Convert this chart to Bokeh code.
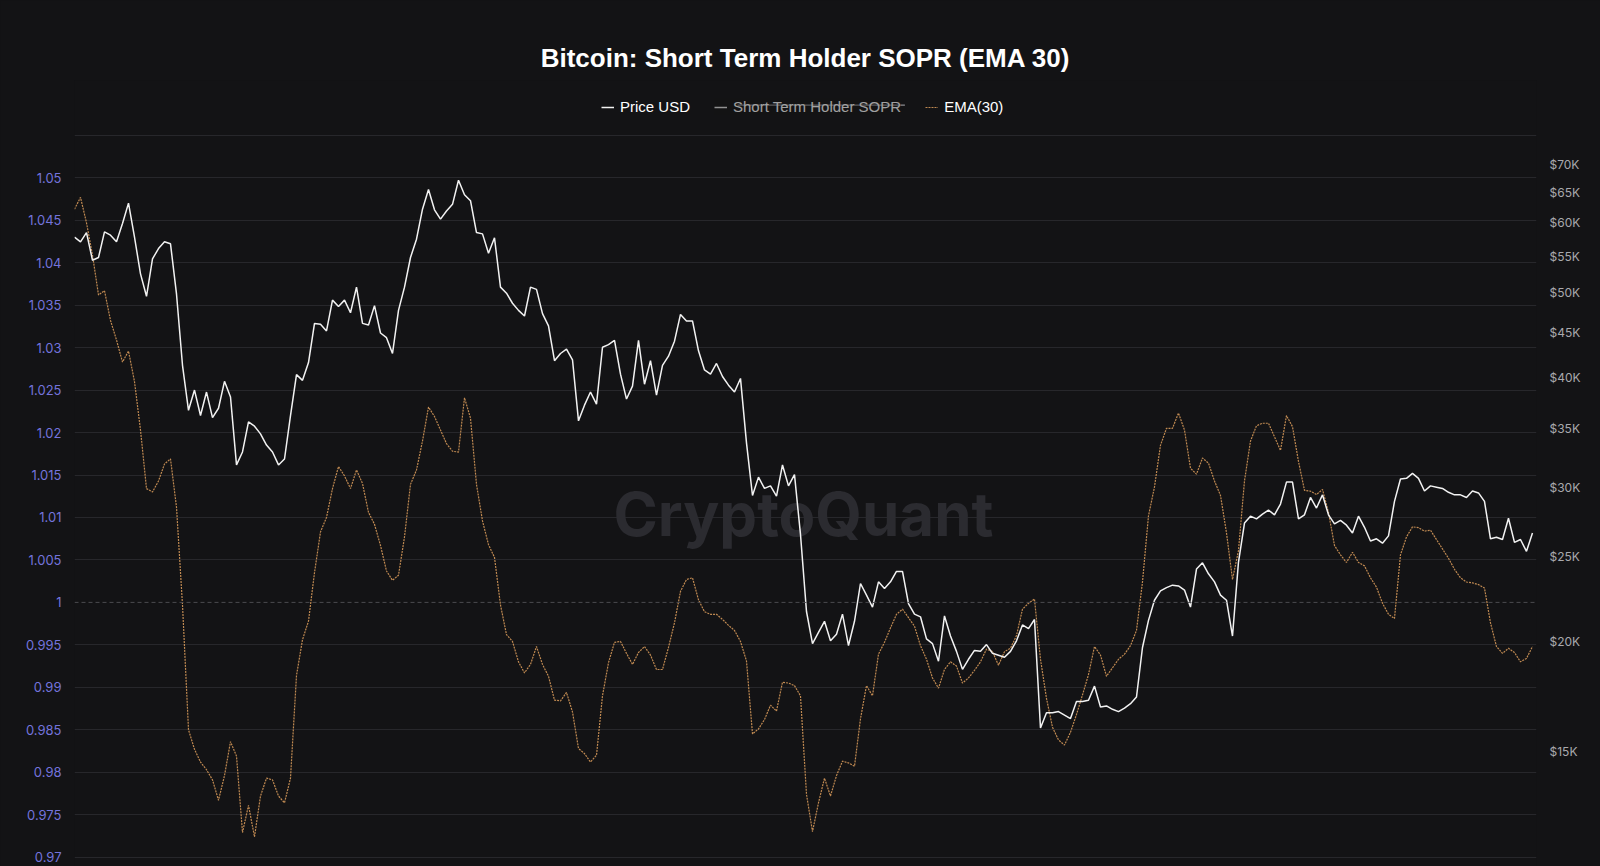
import numpy as np
from bokeh.plotting import figure
from bokeh.models import (Range1d, LogScale, LogAxis, FixedTicker, CustomJSTickFormatter,
                          Span, Label, Legend, LegendItem, ColumnDataSource, BoxAnnotation)
from bokeh.embed import file_html
from bokeh.resources import INLINE

# ---------------- data ----------------
ema30 = [
    1.0463, 1.0477, 1.0447, 1.0409, 1.0362, 1.0367, 1.0332, 1.0309, 1.0283, 1.0296, 1.0260, 1.0203,
    1.0134, 1.0130, 1.0143, 1.0163, 1.0169, 1.0112, 0.9997, 0.9850, 0.9827, 0.9812, 0.9803, 0.9791,
    0.9767, 0.9796, 0.9836, 0.9819, 0.9729, 0.9761, 0.9724, 0.9772, 0.9793, 0.9791, 0.9772,
    0.9764, 0.9793, 0.9914, 0.9956, 0.9978, 1.0035, 1.0083, 1.0100, 1.0134, 1.0160, 1.0149, 1.0134,
    1.0156, 1.0140, 1.0106, 1.0092, 1.0067, 1.0037, 1.0026, 1.0032, 1.0077, 1.0139, 1.0156, 1.0190,
    1.0230, 1.0219, 1.0203, 1.0187, 1.0178, 1.0177, 1.0241, 1.0217, 1.0139, 1.0096, 1.0068,
    1.0053, 0.9997, 0.9962, 0.9954, 0.9930, 0.9917, 0.9927, 0.9948, 0.9927, 0.9913, 0.9885, 0.9884,
    0.9894, 0.9871, 0.9828, 0.9822, 0.9812, 0.9820, 0.9890, 0.9929, 0.9953, 0.9954, 0.9940, 0.9927,
    0.9941, 0.9948, 0.9938, 0.9921, 0.9921, 0.9947, 0.9976, 1.0013, 1.0027, 1.0029, 1.0003,
    0.9989, 0.9986, 0.9986, 0.9980, 0.9973, 0.9967, 0.9954, 0.9931, 0.9845, 0.9851, 0.9862, 0.9879,
    0.9872, 0.9906, 0.9905, 0.9902, 0.9890, 0.9774, 0.9730, 0.9764, 0.9793, 0.9772, 0.9796, 0.9813,
    0.9811, 0.9807, 0.9863, 0.9902, 0.9890, 0.9939, 0.9953, 0.9970, 0.9986, 0.9992, 0.9982,
    0.9972, 0.9949, 0.9933, 0.9911, 0.9899, 0.9921, 0.9930, 0.9925, 0.9905, 0.9911, 0.9920, 0.9930,
    0.9945, 0.9942, 0.9926, 0.9942, 0.9946, 0.9961, 0.9992, 0.9999, 1.0004, 0.9933, 0.9887, 0.9853,
    0.9838, 0.9832, 0.9847, 0.9868, 0.9891, 0.9915, 0.9948, 0.9938, 0.9913, 0.9923, 0.9933,
    0.9939, 0.9949, 0.9967, 1.0024, 1.0102, 1.0136, 1.0185, 1.0205, 1.0205, 1.0223, 1.0203, 1.0158,
    1.0151, 1.0170, 1.0164, 1.0143, 1.0126, 1.0082, 1.0027, 1.0061, 1.0143, 1.0190, 1.0208, 1.0211,
    1.0211, 1.0195, 1.0179, 1.0220, 1.0207, 1.0166, 1.0132, 1.0131, 1.0127, 1.0133, 1.0106,
    1.0067, 1.0056, 1.0047, 1.0059, 1.0047, 1.0043, 1.0029, 1.0018, 0.9999, 0.9986, 0.9981, 1.0056,
    1.0077, 1.0089, 1.0088, 1.0084, 1.0085, 1.0074, 1.0063, 1.0052, 1.0039, 1.0029, 1.0024, 1.0023,
    1.0021, 1.0017, 0.9976, 0.9948, 0.9940, 0.9946, 0.9941, 0.9930, 0.9934, 0.9948,
]

price_usd_k = [
    57.8, 57.1, 58.5, 54.4, 54.8, 58.6, 58.1, 57.1, 59.9, 63.2, 57.8, 52.5, 49.5, 54.6, 56.1, 57.1,
    56.8, 49.8, 41.3, 36.7, 38.7, 36.2, 38.5, 36.0, 36.9, 39.6, 38.0, 31.8, 32.9, 35.6, 35.2, 34.5,
    33.5, 32.9, 31.8,
    32.3, 36.2, 40.3, 39.7, 41.6, 46.1, 46.0, 45.2, 49.0, 48.2, 49.0, 47.4, 50.7, 46.1, 45.9, 48.3,
    44.95, 44.4, 42.6, 47.7, 50.7, 54.8, 57.5, 62.2, 65.5, 62.1, 60.6, 61.9, 63.0, 67.1, 64.6, 63.6,
    58.5, 58.3, 55.4,
    57.7, 50.7, 49.9, 48.6, 47.7, 47.0, 50.7, 50.4, 47.3, 45.8, 41.8, 42.6, 43.1, 41.9, 35.7, 37.2,
    38.5, 37.3, 43.3, 43.6, 44.1, 40.35, 37.8, 39.1, 44.1, 39.3, 41.8, 38.2, 41.3, 42.3, 44.0, 47.2,
    46.4, 46.4, 42.9,
    40.8, 40.35, 41.5, 40.1, 39.2, 38.5, 39.9, 33.7, 29.35, 30.8, 29.9, 30.1, 29.3, 31.8, 30.1, 31.0,
    26.5, 21.65, 19.9, 20.5, 21.1, 20.05, 20.4, 21.5, 19.8, 21.1, 23.3, 22.6, 21.9, 23.4, 23.0, 23.4,
    24.05, 24.05, 22.1,
    21.5, 21.35, 20.15, 19.9, 19.0, 21.4, 20.3, 19.5, 18.6, 19.1, 19.55, 19.5, 19.85, 19.4, 19.3, 19.2,
    19.5, 20.05, 20.9, 20.7, 21.2, 15.95, 16.6, 16.6, 16.65, 16.5, 16.35, 17.1, 17.1, 17.15, 17.8,
    16.85, 16.9, 16.75, 16.65,
    16.8, 17.0, 17.3, 19.7, 21.15, 22.3, 22.85, 23.05, 23.2, 23.15, 22.9, 21.9, 24.2, 24.6, 23.9, 23.4,
    22.6, 22.3, 20.3, 24.65, 27.3, 27.8, 27.6, 27.95, 28.25, 27.9, 28.7, 30.4, 30.4, 27.6, 27.9, 29.2,
    28.4, 29.4, 27.9,
    27.25, 27.5, 27.15, 26.6, 27.8, 27.0, 26.05, 26.2, 25.9, 26.4, 28.9, 30.65, 30.7, 31.1, 30.7, 29.7,
    30.1, 30.0, 29.9, 29.6, 29.4, 29.4, 29.2, 29.7, 29.55, 28.9, 26.2, 26.3, 26.15, 27.65, 25.95, 26.15,
    25.35, 26.6,
]

sopr_ticks = [0.97, 0.975, 0.98, 0.985, 0.99, 0.995, 1.0, 1.005, 1.01, 1.015, 1.02, 1.025,
              1.03, 1.035, 1.04, 1.045, 1.05]
grid_levels = [0.97, 0.975, 0.98, 0.985, 0.99, 0.995, 1.005, 1.01, 1.015, 1.02, 1.025,
               1.03, 1.035, 1.04, 1.045, 1.05, 1.055]
price_ticks = [15000, 20000, 25000, 30000, 35000, 40000, 45000, 50000, 55000, 60000, 65000, 70000]

TITLE = "Bitcoin: Short Term Holder SOPR (EMA 30)"
LEGEND_LABELS = ["Price USD", "Short Term Holder SOPR", "EMA(30)"]
WATERMARK = "CryptoQuant"

# ---------------- styling ----------------
BG = "#131315"
GRID = "#27272b"
EMA_COLOR = "#c08a52"
PRICE_COLOR = "#f2f2f2"

n = len(ema30)
src = ColumnDataSource(dict(t=list(range(n)), ema=ema30,
                            price=[v * 1000 for v in price_usd_k]))
# the SOPR series itself is switched off in the reference: no values are shown
hidden_src = ColumnDataSource(dict(t=list(range(n)), sopr=[float("nan")] * n))

p = figure(width=1600, height=866, output_backend="svg", toolbar_location=None, tools="",
           x_range=Range1d(0, 243.67), y_range=Range1d(0.9689, 1.06146),
           x_axis_location=None, y_axis_location="left",
           background_fill_color=BG, border_fill_color=BG,
           min_border_left=74, min_border_right=64, min_border_bottom=0, min_border_top=80)
p.outline_line_color = None
p.styles = {"background-color": BG}

p.extra_y_ranges = {"price": Range1d(11090, 87180)}
p.extra_y_scales = {"price": LogScale()}

# title
p.title.text = TITLE
p.title.align = "center"
p.title.text_font = "Liberation Sans"
p.title.text_font_size = "26px"
p.title.text_font_style = "bold"
p.title.text_color = "#ffffff"
p.title.standoff = 15

# grid
p.xgrid.visible = False
p.ygrid.ticker = FixedTicker(ticks=grid_levels)
p.ygrid.grid_line_color = GRID
p.ygrid.grid_line_width = 1

one_line = Span(location=1.0, dimension="width", line_color="#4a4a4f",
                line_dash="4 3", line_width=1)
p.add_layout(one_line)

# left axis
ax = p.yaxis[0]
ax.ticker = FixedTicker(ticks=sopr_ticks)
ax.formatter = CustomJSTickFormatter(code="return String(parseFloat(tick.toFixed(3)));")
ax.axis_line_color = None
ax.major_tick_line_color = None
ax.minor_tick_line_color = None
ax.major_tick_out = 0
ax.major_tick_in = 0
ax.major_label_text_color = "#7474dc"
ax.major_label_text_font = "Inter"
ax.major_label_text_font_size = "13px"
ax.major_label_standoff = 13

# right axis (log price)
rax = LogAxis(y_range_name="price", ticker=FixedTicker(ticks=price_ticks),
              formatter=CustomJSTickFormatter(code="return '$' + Math.round(tick/1000) + 'K';"))
rax.axis_line_color = None
rax.major_tick_line_color = None
rax.minor_tick_line_color = None
rax.major_tick_out = 0
rax.major_tick_in = 0
rax.major_label_text_color = "#a9a9ad"
rax.major_label_text_font = "Inter"
rax.major_label_text_font_size = "12px"
rax.major_label_standoff = 13
p.add_layout(rax, "right")

# watermark
wm = Label(x=121.5, y=1.0104, text=WATERMARK, text_align="center", text_baseline="middle",
           text_font="Inter", text_font_size="60px", text_font_style="bold",
           text_color="#2b2b30", level="underlay")
p.add_layout(wm)

# series
r_ema = p.line("t", "ema", source=src, line_color=EMA_COLOR, line_width=1.2, line_dash="2 1")
r_price = p.line("t", "price", source=src, y_range_name="price", line_color=PRICE_COLOR,
                 line_width=1.5)
r_sopr = p.line("t", "sopr", source=hidden_src, line_color="#e6e6e6", line_width=1.5,
                visible=False)

legend = Legend(items=[LegendItem(label=LEGEND_LABELS[0], renderers=[r_price]),
                       LegendItem(label=LEGEND_LABELS[1], renderers=[r_sopr]),
                       LegendItem(label=LEGEND_LABELS[2], renderers=[r_ema])],
                orientation="horizontal", location=(519, 743), click_policy="hide",
                background_fill_alpha=0, border_line_alpha=0,
                label_text_color="#ffffff", label_text_font="Liberation Sans",
                label_text_font_size="15px", glyph_width=13, glyph_height=16,
                label_standoff=6, spacing=24, padding=8, margin=0,
                inactive_fill_color=BG, inactive_fill_alpha=0.4)
p.add_layout(legend)

# strike-through over the switched-off legend entry
strike = BoxAnnotation(left=110.5, right=138.4, bottom=1.05848, top=1.05862,
                       fill_color="#8c8c90", fill_alpha=1.0, line_alpha=0, level="overlay")
p.add_layout(strike)

open("out.html", "w").write(file_html(p, INLINE).replace(
    "<body>", '<body style="margin:0;background-color:#131315;">'))
